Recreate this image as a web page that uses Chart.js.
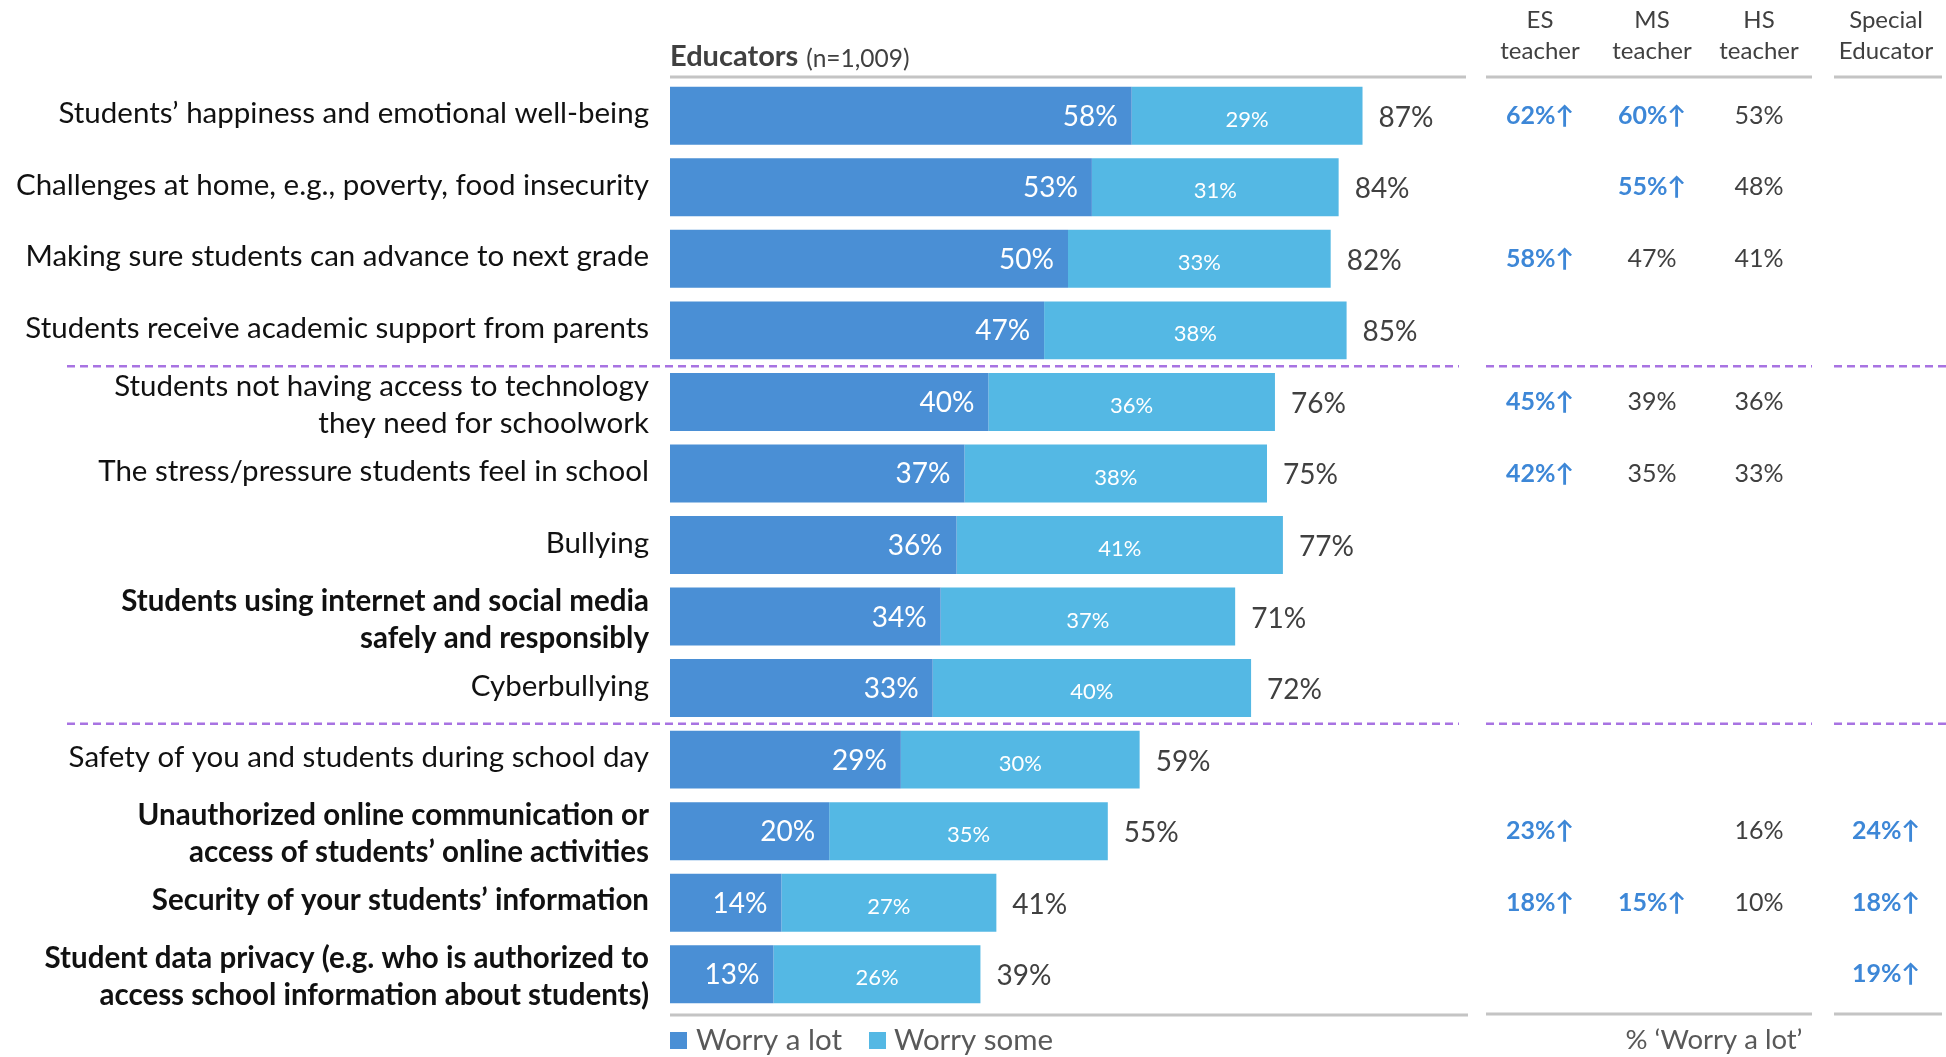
<!DOCTYPE html>
<html>
<head>
<meta charset="utf-8">
<title>Educators – worries about students</title>
<script src="https://cdn.jsdelivr.net/npm/chart.js@4.4.1/dist/chart.umd.min.js"></script>
<style>
  html, body { margin: 0; padding: 0; background: #fff; }
  canvas { display: block; }
</style>
</head>
<body>
<canvas id="worryChart" width="1946" height="1057"></canvas>
<script>
// concerns, top to bottom (multi-line labels are arrays)
const concerns = [
  "Students’ happiness and emotional well-being",
  "Challenges at home, e.g., poverty, food insecurity",
  "Making sure students can advance to next grade",
  "Students receive academic support from parents",
  ["Students not having access to technology", "they need for schoolwork"],
  "The stress/pressure students feel in school",
  "Bullying",
  ["Students using internet and social media", "safely and responsibly"],
  "Cyberbullying",
  "Safety of you and students during school day",
  ["Unauthorized online communication or", "access of students’ online activities"],
  "Security of your students’ information",
  ["Student data privacy (e.g. who is authorized to", "access school information about students)"]
];
const boldRows = [false, false, false, false, false, false, false, true, false, false, true, true, true];

const worryALot = [58, 53, 50, 47, 40, 37, 36, 34, 33, 29, 20, 14, 13];
const worrySome = [29, 31, 33, 38, 36, 38, 41, 37, 40, 30, 35, 27, 26];
const worryTotal = [87, 84, 82, 85, 76, 75, 77, 71, 72, 59, 55, 41, 39];

// % 'Worry a lot' by educator type (null = not shown), plus significance flags
const esTeacher  = [62, null, 58, null, 45, 42, null, null, null, null, 23, 18, null];
const msTeacher  = [60, 55, 47, null, 39, 35, null, null, null, null, null, 15, null];
const hsTeacher  = [53, 48, 41, null, 36, 33, null, null, null, null, 16, 10, null];
const specialEd  = [null, null, null, null, null, null, null, null, null, null, 24, 18, 19];
const esUp       = [1, 0, 1, 0, 1, 1, 0, 0, 0, 0, 1, 1, 0];
const msUp       = [1, 1, 0, 0, 0, 0, 0, 0, 0, 0, 0, 1, 0];
const hsUp       = [0, 0, 0, 0, 0, 0, 0, 0, 0, 0, 0, 0, 0];
const specialUp  = [0, 0, 0, 0, 0, 0, 0, 0, 0, 0, 1, 1, 1];

const groupHeaders = [["ES", "teacher"], ["MS", "teacher"], ["HS", "teacher"], ["Special", "Educator"]];
const sectionBreaks = [4, 9];   // dashed rule drawn above these rows

const DARK = "#4a8fd5";
const LIGHT = "#54b8e4";
const SIG_BLUE = "#3d87d7";
const TEXT = "#404040";
const FONT = "Lato, 'Open Sans', sans-serif";

const columns = [
  { x: 1540, vals: esTeacher, up: esUp },
  { x: 1652, vals: msTeacher, up: msUp },
  { x: 1759, vals: hsTeacher, up: hsUp },
  { x: 1886, vals: specialEd, up: specialUp }
];

function hline(ctx, x1, x2, y, color, width, dash) {
  ctx.save();
  ctx.strokeStyle = color;
  ctx.lineWidth = width;
  ctx.setLineDash(dash || []);
  ctx.beginPath();
  ctx.moveTo(x1, y);
  ctx.lineTo(x2, y);
  ctx.stroke();
  ctx.restore();
}

const decorations = {
  id: "decorations",
  afterDatasetsDraw(chart) {
    const ctx = chart.ctx;
    const yScale = chart.scales.y;
    const dark = chart.getDatasetMeta(0).data;
    const light = chart.getDatasetMeta(1).data;

    ctx.save();
    ctx.textBaseline = "middle";

    // values inside and after the bars
    dark.forEach((bar, i) => {
      ctx.fillStyle = "#fff";
      ctx.font = "28px " + FONT;
      ctx.textAlign = "right";
      ctx.fillText(worryALot[i] + "%", bar.x - 14, bar.y + 1);

      const seg = light[i];
      ctx.font = "22px " + FONT;
      ctx.textAlign = "center";
      ctx.fillText(worrySome[i] + "%", (seg.x + seg.base) / 2, seg.y + 4);

      ctx.fillStyle = TEXT;
      ctx.font = "28px " + FONT;
      ctx.textAlign = "left";
      ctx.fillText(worryTotal[i] + "%", seg.x + 16, seg.y + 2);
    });

    // row labels
    concerns.forEach((label, i) => {
      const y = yScale.getPixelForValue(i);
      const lines = Array.isArray(label) ? label : [label];
      const shift = lines.length > 1 ? 3 : -2;
      ctx.fillStyle = "#111";
      ctx.font = (boldRows[i] ? "bold " : "") + "29.5px " + FONT;
      ctx.textAlign = "right";
      lines.forEach((ln, k) => {
        ctx.fillText(ln, 649, y + (k - (lines.length - 1) / 2) * 37 + shift);
      });
    });

    // educator-type table
    columns.forEach(col => {
      col.vals.forEach((v, i) => {
        if (v === null) return;
        const y = yScale.getPixelForValue(i);
        const up = col.up[i];
        ctx.font = (up ? "bold " : "") + "25px " + FONT;
        ctx.fillStyle = up ? SIG_BLUE : TEXT;
        ctx.textAlign = "center";
        ctx.fillText(v + "%" + (up ? "↑" : ""), col.x, y);
      });
    });
    groupHeaders.forEach((h, k) => {
      ctx.font = "24px " + FONT;
      ctx.fillStyle = TEXT;
      ctx.textAlign = "center";
      ctx.fillText(h[0], columns[k].x, 20);
      ctx.fillText(h[1], columns[k].x, 51);
    });

    // title
    ctx.textAlign = "left";
    ctx.fillStyle = TEXT;
    ctx.font = "bold 29px " + FONT;
    ctx.fillText("Educators", 670, 57);
    const tw = ctx.measureText("Educators").width + 8;
    ctx.font = "24.5px " + FONT;
    ctx.fillText("(n=1,009)", 670 + tw, 59);

    // top and bottom rules
    const gray = "#c4c4c4";
    hline(ctx, 670, 1466, 77, gray, 3);
    hline(ctx, 1486, 1812, 77, gray, 3);
    hline(ctx, 1834, 1942, 77, gray, 3);
    hline(ctx, 670, 1468, 1015, gray, 3);
    hline(ctx, 1486, 1812, 1014, gray, 3);
    hline(ctx, 1834, 1942, 1014, gray, 3);

    // dashed section breaks
    sectionBreaks.forEach(r => {
      const y = (yScale.getPixelForValue(r - 1) + yScale.getPixelForValue(r)) / 2;
      const purple = "#a873e2";
      hline(ctx, 67, 1459, y, purple, 2.5, [8, 5]);
      hline(ctx, 1486, 1812, y, purple, 2.5, [8, 5]);
      hline(ctx, 1834, 1946, y, purple, 2.5, [8, 5]);
    });

    // legend
    ctx.font = "29.5px " + FONT;
    ctx.fillStyle = DARK;
    ctx.fillRect(670, 1032, 17, 17);
    ctx.fillStyle = LIGHT;
    ctx.fillRect(869, 1032, 17, 17);
    ctx.fillStyle = "#595959";
    ctx.fillText("Worry a lot", 696, 1040);
    ctx.fillText("Worry some", 894, 1040);
    ctx.font = "27.5px " + FONT;
    ctx.textAlign = "center";
    ctx.fillText("% ‘Worry a lot’", 1714, 1040);

    ctx.restore();
  }
};

const ctx = document.getElementById("worryChart").getContext("2d");
new Chart(ctx, {
  type: "bar",
  data: {
    labels: concerns.map(c => Array.isArray(c) ? c.join(" ") : c),
    datasets: [
      { label: "Worry a lot", data: worryALot, backgroundColor: DARK },
      { label: "Worry some", data: worrySome, backgroundColor: LIGHT }
    ]
  },
  options: {
    indexAxis: "y",
    responsive: false,
    animation: false,
    layout: { padding: { left: 670, right: 480, top: 80, bottom: 47 } },
    datasets: { bar: { categoryPercentage: 1, barPercentage: 0.81 } },
    scales: {
      x: { stacked: true, min: 0, max: 100, display: false },
      y: { stacked: true, display: false }
    },
    plugins: {
      legend: { display: false },
      tooltip: { enabled: false }
    }
  },
  plugins: [decorations]
});
</script>
</body>
</html>
